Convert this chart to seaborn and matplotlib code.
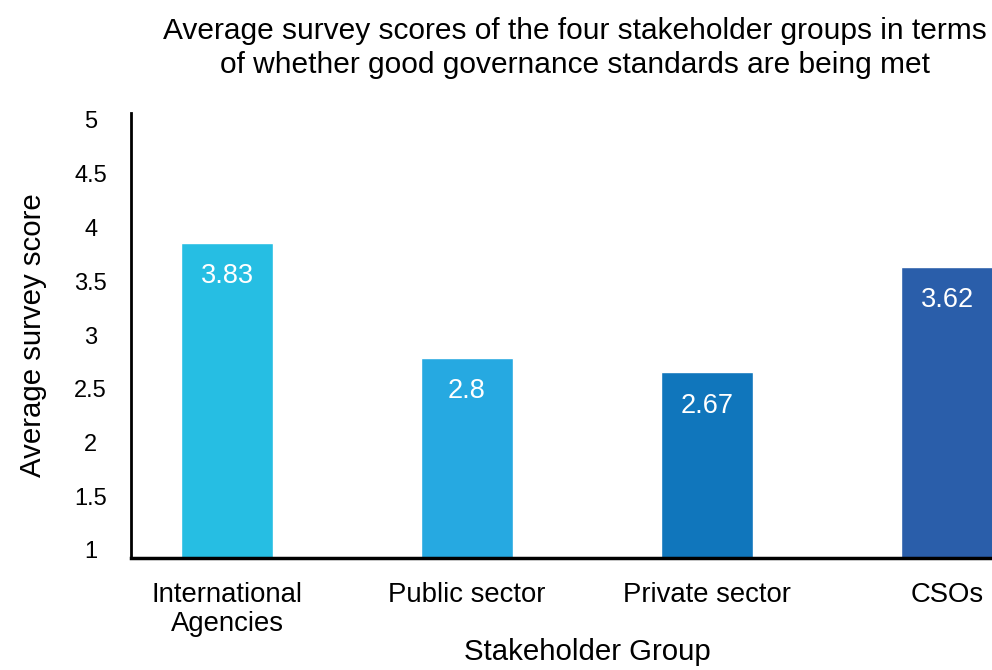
import matplotlib
matplotlib.use("Agg")
import matplotlib.pyplot as plt
import matplotlib.transforms as mtransforms
import seaborn as sns
import pandas as pd

groups = ["International\nAgencies", "Public sector", "Private sector", "CSOs"]
scores = [3.83, 2.8, 2.67, 3.62]
score_labels = ["3.83", "2.8", "2.67", "3.62"]
bar_colors = ["#26BEE3", "#26A9E1", "#1076BC", "#2A5EAA"]
y_ticks = [1, 1.5, 2, 2.5, 3, 3.5, 4, 4.5, 5]
y_tick_labels = ["1", "1.5", "2", "2.5", "3", "3.5", "4", "4.5", "5"]

sns.set_theme(style="white")
plt.rcParams["font.family"] = ["Liberation Sans", "DejaVu Sans"]
plt.rcParams["text.color"] = "black"
plt.rcParams["axes.labelcolor"] = "black"
plt.rcParams["xtick.color"] = "black"
plt.rcParams["ytick.color"] = "black"

df = pd.DataFrame({"group": groups, "score": scores})

W, H = 992, 670
fig = plt.figure(figsize=(W / 100, H / 100), dpi=100)
left, right, bottom, top = 131, 1043, 558, 113
ax = fig.add_axes([left / W, 1 - bottom / H, (right - left) / W, (bottom - top) / H])

sns.barplot(data=df, x="group", y="score", hue="group", palette=bar_colors,
            width=0.38, legend=False, ax=ax, saturation=1)

ax.set_ylim(1, 5)
ax.set_xlim(-0.4, 3.4)
ax.set_yticks(y_ticks)
ax.set_yticklabels(y_tick_labels, fontsize=17)
ax.tick_params(axis="y", length=0, pad=29)
ax.tick_params(axis="x", length=0, pad=17, labelsize=19.8)
for lbl, v in zip(ax.get_yticklabels(), y_ticks):
    lbl.set_horizontalalignment("center")
    # tick labels sit slightly compressed toward the middle of the axis
    dy = -(7 - (5 - v) * 3.75) / 100
    lbl.set_transform(lbl.get_transform() + mtransforms.ScaledTranslation(0, dy, fig.dpi_scale_trans))
for lbl in ax.get_xticklabels():
    lbl.set_linespacing(1.15)

for s in ["top", "right"]:
    ax.spines[s].set_visible(False)
ax.spines["left"].set_color("black")
ax.spines["left"].set_linewidth(2)
ax.spines["bottom"].set_color("black")
ax.spines["bottom"].set_linewidth(2.5)

for i, (v, t) in enumerate(zip(scores, score_labels)):
    ax.annotate(t, (i, v), xytext=(0, -24), textcoords="offset points",
                ha="center", va="center", color="white", fontsize=19.5)

ax.set_xlabel("Stakeholder Group", fontsize=21.2, labelpad=1)
ax.set_ylabel("Average survey score", fontsize=21.2, labelpad=20)

fig.text(575 / W, 1 - 48 / H,
         "Average survey scores of the four stakeholder groups in terms\nof whether good governance standards are being met",
         ha="center", va="center", fontsize=21.5, linespacing=1.3)

fig.savefig("out.png", dpi=100)
